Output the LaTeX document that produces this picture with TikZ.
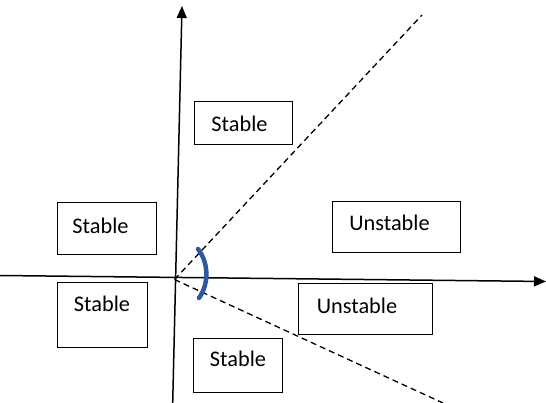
\documentclass[tikz,border=0pt]{standalone}
\usepackage{fontspec}
\setmainfont{Carlito}
\usetikzlibrary{arrows.meta}
\definecolor{arcblue}{RGB}{46,88,160}
\tikzset{
  axis/.style={line width=1.5pt, -{Triangle[length=12pt,width=10pt]}},
  dline/.style={line width=1.3pt, dash pattern=on 6pt off 4pt},
  box/.style={draw, line width=0.8pt, rectangle, inner sep=0pt},
  lbl/.style={font=\fontsize{22.3}{25}\selectfont, inner sep=0pt, anchor=center},
}
\begin{document}
\begin{tikzpicture}[x=1pt,y=-1pt]
\useasboundingbox (0,0) rectangle (546,403);
% axes
\coordinate (hl) at (0,275.5);
\coordinate (hr) at (546,281.5);
\coordinate (vb) at (172.7,403);
\coordinate (vt) at (182,6);
\coordinate (O) at (174.5,279.5);
\coordinate (du) at (422,15);
\coordinate (dd) at (443,403);
\draw[axis] (hl) -- (hr);
\draw[axis] (vb) -- (vt);
\draw[dline] (O) -- (du);
\draw[dline] (O) -- (dd);
% arc
\coordinate (a1) at (198,249);
\coordinate (a2) at (199,298);
\draw[arcblue, line width=4.5pt, line cap=round] (a1) .. controls (209,263) and (209,284) .. (a2);
% boxes
\node[box, minimum width=98pt, minimum height=43pt] (b1) at (243,122.5) {};
\node[lbl] (t1) at (239.5,123.5) {Stable};
\node[box, minimum width=99pt, minimum height=52pt] (b2) at (106.5,228) {};
\node[lbl] (t2) at (100.5,225.5) {Stable};
\node[box, minimum width=90pt, minimum height=65pt] (b3) at (102,314.5) {};
\node[lbl] (t3) at (102,303.5) {Stable};
\node[box, minimum width=89pt, minimum height=54pt] (b4) at (237.5,365) {};
\node[lbl] (t4) at (238,358.5) {Stable};
\node[box, minimum width=128pt, minimum height=51pt] (b5) at (396,226.5) {};
\node[lbl] (t5) at (389.5,223) {Unstable};
\node[box, minimum width=134pt, minimum height=51pt] (b6) at (365,308.5) {};
\node[lbl] (t6) at (357,306) {Unstable};
\end{tikzpicture}
\end{document}
